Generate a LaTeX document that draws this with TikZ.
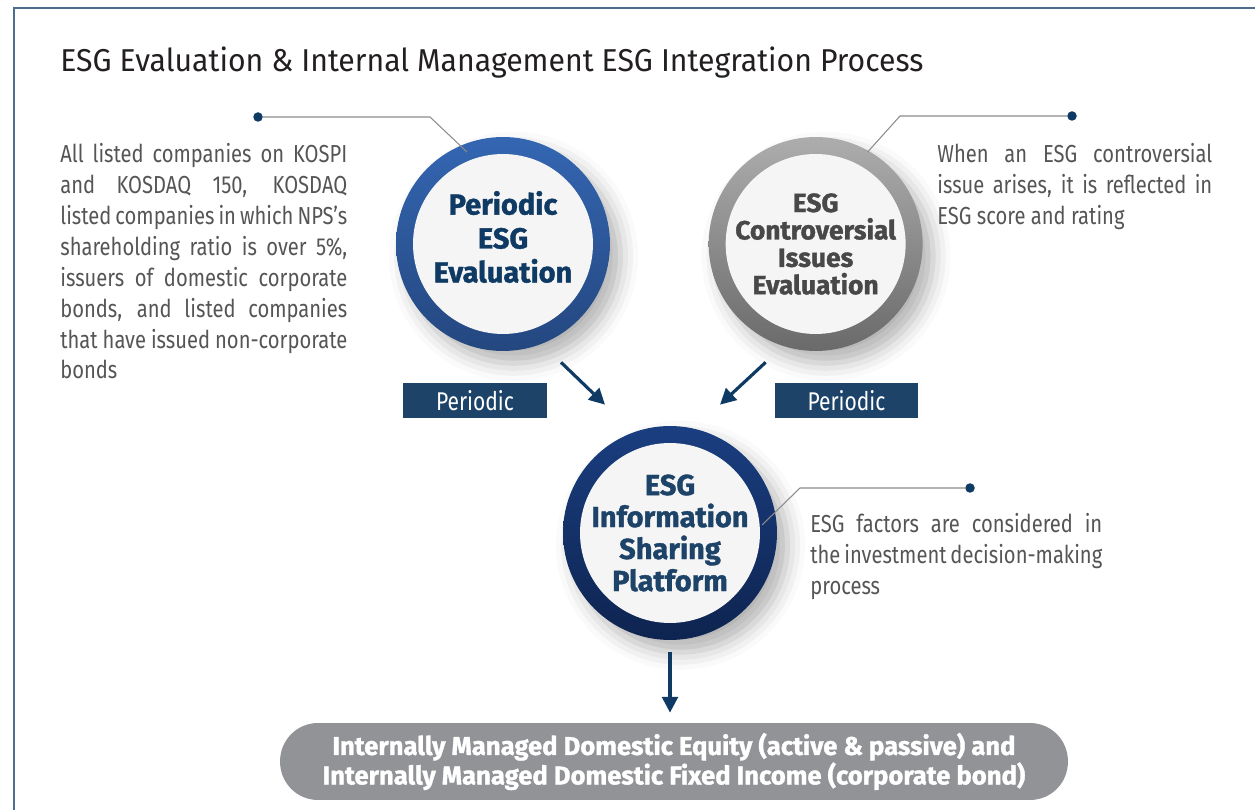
\documentclass[tikz,border=0pt]{standalone}
\usepackage{fontspec}
\setmainfont{Fira Sans}[FakeStretch=0.82]
\newfontfamily\headfont{Fira Sans}[BoldFeatures={FakeBold=1.3}]
\newfontfamily\titlefont{Fira Sans}[FakeStretch=0.955]
\usepackage{xcolor}
\usetikzlibrary{arrows.meta,positioning,shadows.blur}

\definecolor{navy}{HTML}{0E3A63}
\definecolor{framecol}{HTML}{4F6D8F}
\definecolor{titlecol}{HTML}{231F20}
\definecolor{bodygray}{HTML}{555555}
\definecolor{leadgray}{HTML}{8C8C8C}
\definecolor{tagfill}{HTML}{1D4369}
\definecolor{corefill}{HTML}{F5F5F5}
\definecolor{blueA}{HTML}{3466B2}
\definecolor{blueB}{HTML}{24477F}
\definecolor{greyA}{HTML}{ADADAD}
\definecolor{greyB}{HTML}{6A6A6A}
\definecolor{navyA}{HTML}{1A3E80}
\definecolor{navyB}{HTML}{0E2450}
\definecolor{basefill}{HTML}{929397}

\newcommand\jl[2][5.74cm]{\makebox[#1][s]{#2}}

\tikzset{
  ring/.style={circle, minimum size=4.28cm, inner sep=0pt, shading angle=45,
    blur shadow={shadow xshift=6pt, shadow yshift=-7pt, shadow blur radius=10pt, shadow opacity=30}},
  core/.style={circle, fill=corefill, minimum size=3.6cm, inner sep=0pt},
  ringtext/.style={align=center, inner sep=0pt},
  tag/.style={fill=tagfill, text=white, minimum width=2.88cm, minimum height=0.7cm, inner sep=0pt,
    font=\fontsize{14.6}{16}\selectfont},
  flow/.style={-{Triangle[length=9pt,width=9pt]}, line width=1.8pt, draw=navy},
  lead/.style={draw=leadgray, line width=0.6pt},
  dot/.style={circle, fill=navy, inner sep=0pt, minimum size=0.19cm},
  note/.style={anchor=north west, inner sep=0pt, text=bodygray, align=left,
    font=\fontsize{14}{17.6}\selectfont}
}

\begin{document}
\begin{tikzpicture}[x=0.02cm, y=-0.02cm]
  \useasboundingbox (0,0) rectangle (1255,810);
  \draw[framecol, line width=1.1pt] (14,810) -- (14,8) -- (1255,8);

  \node[anchor=base west, inner sep=0pt, text=titlecol, font=\fontsize{18}{22}\selectfont\titlefont] (title) at (60,72)
    {ESG Evaluation \& Internal Management ESG Integration Process};

  % the three rings
  \node[ring, top color=blueA, bottom color=blueB] (periodic) at (503,244) {};
  \node[ring, top color=greyA, bottom color=greyB, right=1.96cm of periodic] (contro) {};
  \node[ring, top color=navyA, bottom color=navyB] (platform) at (670,533) {};
  \node[core] (periodicIn) at (periodic) {};
  \node[core] (controIn) at (contro) {};
  \node[core] (platformIn) at (platform) {};

  \node[ringtext, text=navy, yshift=4pt, font=\fontsize{16.5}{19.3}\selectfont\headfont\bfseries] (periodicLbl) at (periodic)
    {Periodic\\ESG\\Evaluation};
  \node[ringtext, text=bodygray!85!black, font=\fontsize{15}{15.6}\selectfont\headfont\bfseries] (controLbl) at (contro)
    {ESG\\Controversial\\Issues\\Evaluation};
  \node[ringtext, text=tagfill, font=\fontsize{16.5}{18.2}\selectfont\headfont\bfseries] (platformLbl) at (platform)
    {ESG\\Information\\Sharing\\Platform};

  \node[tag] (tagLeft) at (475,400.5) {Periodic};
  \node[tag] (tagRight) at (846.5,400.5) {Periodic};

  \node[fill=basefill, rounded corners=0.76cm, minimum width=15.76cm, minimum height=1.54cm, inner sep=0pt,
    align=center, text=white, font=\fontsize{14.6}{15.3}\selectfont\headfont\bfseries] (target) at (674,761.5)
    {Internally Managed Domestic Equity (active \& passive) and\\Internally Managed Domestic Fixed Income (corporate bond)};

  \draw[flow] ([shift={(58,11)}]periodic.south) -- ([shift={(-65,-21)}]platform.north);
  \draw[flow] ([shift={(-50,11)}]contro.south) -- ([shift={(50,-21)}]platform.north);
  \draw[flow, shorten <=0.24cm, shorten >=0.2cm] (platform.south) -- (platform.south |- target.north);

  % leader lines and their notes
  \node[dot] (dotLeft) at (258,117) {};
  \node[dot] (dotRight) at (1072,116) {};
  \node[dot] (dotMid) at (970,488) {};
  \draw[lead] (dotLeft) -- ++(172,0) -- ([shift={(-36,-92)}]periodic.center);
  \draw[lead] (dotRight) -- ++(-172,0) -- ([shift={(52,-92)}]contro.center);
  \draw[lead] (dotMid) -- ++(-170,0) -- ([shift={(92,-8)}]platform.center);

  \node[note] (scopeNote) at (60,143) {\jl{All listed companies on KOSPI}\\
    \jl{and KOSDAQ 150, KOSDAQ}\\
    \jl{listed companies in which NPS’s}\\
    \jl{shareholding ratio is over 5\%,}\\
    \jl{issuers of domestic corporate}\\
    \jl{bonds, and listed companies}\\
    \jl{that have issued non-corporate}\\
    bonds};
  \node[note] (controNote) at (937,143) {\jl[5.5cm]{When an ESG controversial}\\
    \jl[5.5cm]{issue arises, it is reflected in}\\
    ESG score and rating};
  \node[note] (platformNote) at (810,513) {\jl[5.84cm]{ESG factors are considered in}\\
    \jl[5.84cm]{the investment decision-making}\\
    process};
\end{tikzpicture}
\end{document}
